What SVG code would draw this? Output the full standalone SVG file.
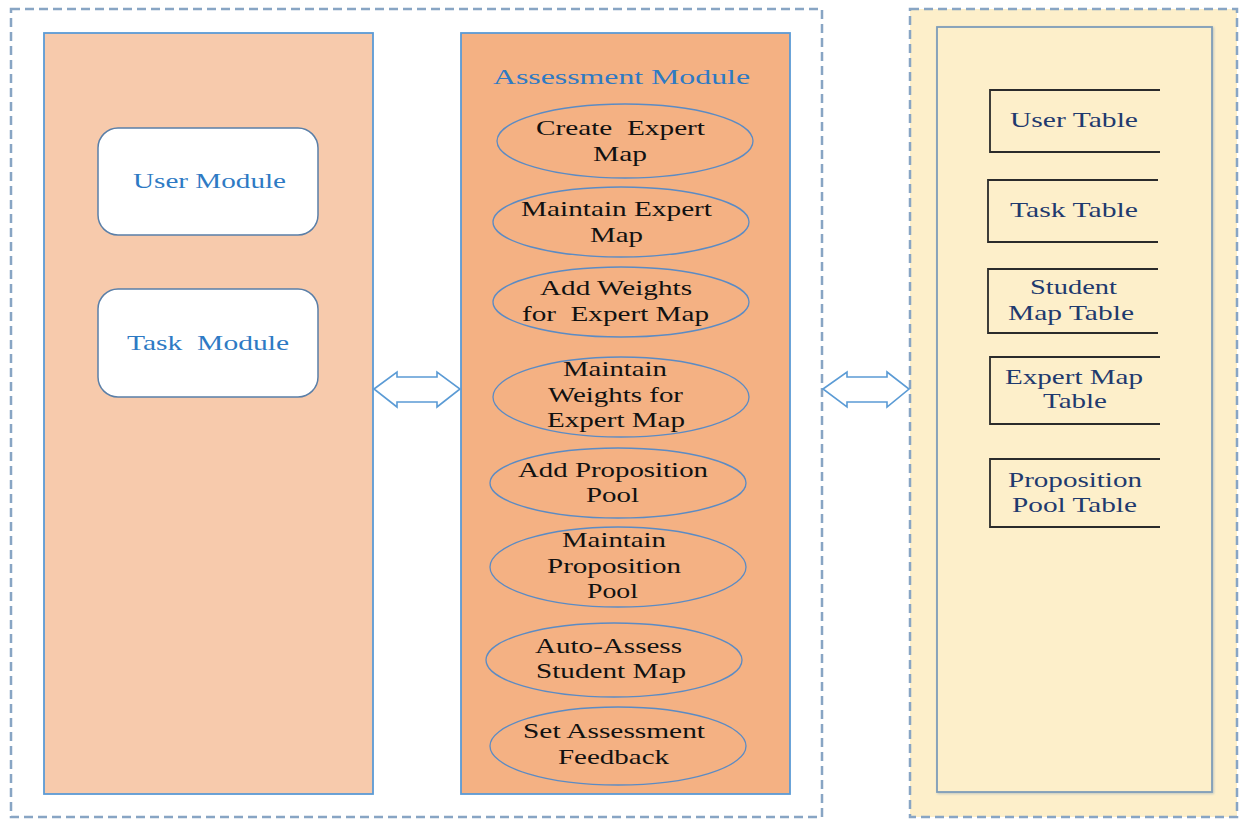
<svg xmlns="http://www.w3.org/2000/svg" width="1239" height="820" viewBox="0 0 1239 820">
<defs>
<style>
.dash{fill:none;stroke:#88a5c4;stroke-width:2.5;stroke-dasharray:9 5}
.panel{stroke:#5b9bd5;stroke-width:1.8}
.mod{fill:#fff;stroke:#5a7fa8;stroke-width:1.5}
.ell{fill:none;stroke:#5b8bc4;stroke-width:1.3}
.tbl{fill:none;stroke:#2b2b2b;stroke-width:1.8}
.arr{fill:#fff;stroke:#5b9bd5;stroke-width:1.6;stroke-linejoin:miter}
text{font-family:"Liberation Serif","Times New Roman",serif;font-size:21px}
.blue{fill:#2e7ac4}
.blk{fill:#111}
.navy{fill:#1f3a6e}
</style>
<filter id="sh" x="-5%" y="-5%" width="110%" height="110%">
<feDropShadow dx="1" dy="1" stdDeviation="1.2" flood-color="#7f9db9" flood-opacity="0.5"/>
</filter>
</defs>
<rect width="1239" height="820" fill="#fff"/>

<g id="left-container">
<rect class="dash" x="11" y="9" width="811" height="808"/>
</g>
<g id="right-container">
<rect x="910" y="9" width="327" height="808" fill="#fdefca"/>
<rect class="dash" x="910" y="9" width="327" height="808"/>
<rect x="937" y="27" width="275" height="765" fill="#fdefca" stroke="#7f9db9" stroke-width="1.8" filter="url(#sh)"/>
</g>

<g id="left-panel">
<rect class="panel" x="44" y="33" width="329" height="761" fill="#f7caac"/>
</g>
<g id="user-module">
<rect class="mod" x="98" y="128" width="220" height="107" rx="20"/>
<text class="blue" x="133" y="188" textLength="153" lengthAdjust="spacingAndGlyphs">User Module</text>
</g>
<g id="task-module">
<rect class="mod" x="98" y="289" width="220" height="108" rx="20"/>
<text class="blue" x="127" y="350" textLength="162" lengthAdjust="spacingAndGlyphs" xml:space="preserve">Task  Module</text>
</g>

<g id="assessment-module">
<rect class="panel" x="461" y="33" width="329" height="761" fill="#f4b183"/>
<text class="blue" x="493" y="84" textLength="257" lengthAdjust="spacingAndGlyphs">Assessment Module</text>
</g>
<g id="create-expert-map">
<ellipse class="ell" cx="625" cy="141" rx="128" ry="37"/>
<text class="blk" x="536" y="135" textLength="169" lengthAdjust="spacingAndGlyphs" xml:space="preserve">Create  Expert</text>
<text class="blk" x="593" y="161" textLength="54" lengthAdjust="spacingAndGlyphs">Map</text>
</g>
<g id="maintain-expert-map">
<ellipse class="ell" cx="621" cy="222" rx="128" ry="35"/>
<text class="blk" x="521" y="216" textLength="191" lengthAdjust="spacingAndGlyphs">Maintain Expert</text>
<text class="blk" x="590" y="242" textLength="53" lengthAdjust="spacingAndGlyphs">Map</text>
</g>
<g id="add-weights">
<ellipse class="ell" cx="621" cy="302" rx="128" ry="35"/>
<text class="blk" x="540" y="295" textLength="152" lengthAdjust="spacingAndGlyphs">Add Weights</text>
<text class="blk" x="522" y="321" textLength="187" lengthAdjust="spacingAndGlyphs" xml:space="preserve">for  Expert Map</text>
</g>
<g id="maintain-weights">
<ellipse class="ell" cx="621" cy="397" rx="128" ry="40"/>
<text class="blk" x="563" y="376" textLength="104" lengthAdjust="spacingAndGlyphs">Maintain</text>
<text class="blk" x="548" y="402" textLength="135" lengthAdjust="spacingAndGlyphs">Weights for</text>
<text class="blk" x="547" y="427" textLength="138" lengthAdjust="spacingAndGlyphs">Expert Map</text>
</g>
<g id="add-proposition-pool">
<ellipse class="ell" cx="618" cy="483" rx="128" ry="35"/>
<text class="blk" x="518" y="477" textLength="190" lengthAdjust="spacingAndGlyphs">Add Proposition</text>
<text class="blk" x="586" y="502" textLength="53" lengthAdjust="spacingAndGlyphs">Pool</text>
</g>
<g id="maintain-proposition-pool">
<ellipse class="ell" cx="618" cy="567" rx="128" ry="40"/>
<text class="blk" x="562" y="547" textLength="104" lengthAdjust="spacingAndGlyphs">Maintain</text>
<text class="blk" x="547" y="573" textLength="134" lengthAdjust="spacingAndGlyphs">Proposition</text>
<text class="blk" x="587" y="598" textLength="51" lengthAdjust="spacingAndGlyphs">Pool</text>
</g>
<g id="auto-assess">
<ellipse class="ell" cx="614" cy="660" rx="128" ry="37"/>
<text class="blk" x="535" y="653" textLength="147" lengthAdjust="spacingAndGlyphs">Auto-Assess</text>
<text class="blk" x="536" y="678" textLength="150" lengthAdjust="spacingAndGlyphs">Student Map</text>
</g>
<g id="set-assessment-feedback">
<ellipse class="ell" cx="618" cy="746" rx="128" ry="39"/>
<text class="blk" x="523" y="738" textLength="182" lengthAdjust="spacingAndGlyphs">Set Assessment</text>
<text class="blk" x="558" y="764" textLength="111" lengthAdjust="spacingAndGlyphs">Feedback</text>
</g>

<g id="user-table">
<polyline class="tbl" points="1160,90 990,90 990,152 1160,152"/>
<text class="navy" x="1010" y="127" textLength="128" lengthAdjust="spacingAndGlyphs">User Table</text>
</g>
<g id="task-table">
<polyline class="tbl" points="1158,180 988,180 988,242 1158,242"/>
<text class="navy" x="1010" y="217" textLength="128" lengthAdjust="spacingAndGlyphs">Task Table</text>
</g>
<g id="student-map-table">
<polyline class="tbl" points="1158,269 988,269 988,333 1158,333"/>
<text class="navy" x="1030" y="294" textLength="87" lengthAdjust="spacingAndGlyphs">Student</text>
<text class="navy" x="1008" y="320" textLength="126" lengthAdjust="spacingAndGlyphs">Map Table</text>
</g>
<g id="expert-map-table">
<polyline class="tbl" points="1160,357 990,357 990,424 1160,424"/>
<text class="navy" x="1005" y="384" textLength="138" lengthAdjust="spacingAndGlyphs">Expert Map</text>
<text class="navy" x="1043" y="408" textLength="64" lengthAdjust="spacingAndGlyphs">Table</text>
</g>
<g id="proposition-pool-table">
<polyline class="tbl" points="1160,459 990,459 990,527 1160,527"/>
<text class="navy" x="1008" y="487" textLength="134" lengthAdjust="spacingAndGlyphs">Proposition</text>
<text class="navy" x="1012" y="512" textLength="125" lengthAdjust="spacingAndGlyphs">Pool Table</text>
</g>

<g id="connectors">
<polygon class="arr" points="374,389 397,372 397,377 437,377 437,372 460,389 437,407 437,402 397,402 397,407"/>
<polygon class="arr" points="823,389 847,372 847,377 887,377 887,372 909,389 887,407 887,402 847,402 847,407"/>
</g>
</svg>
